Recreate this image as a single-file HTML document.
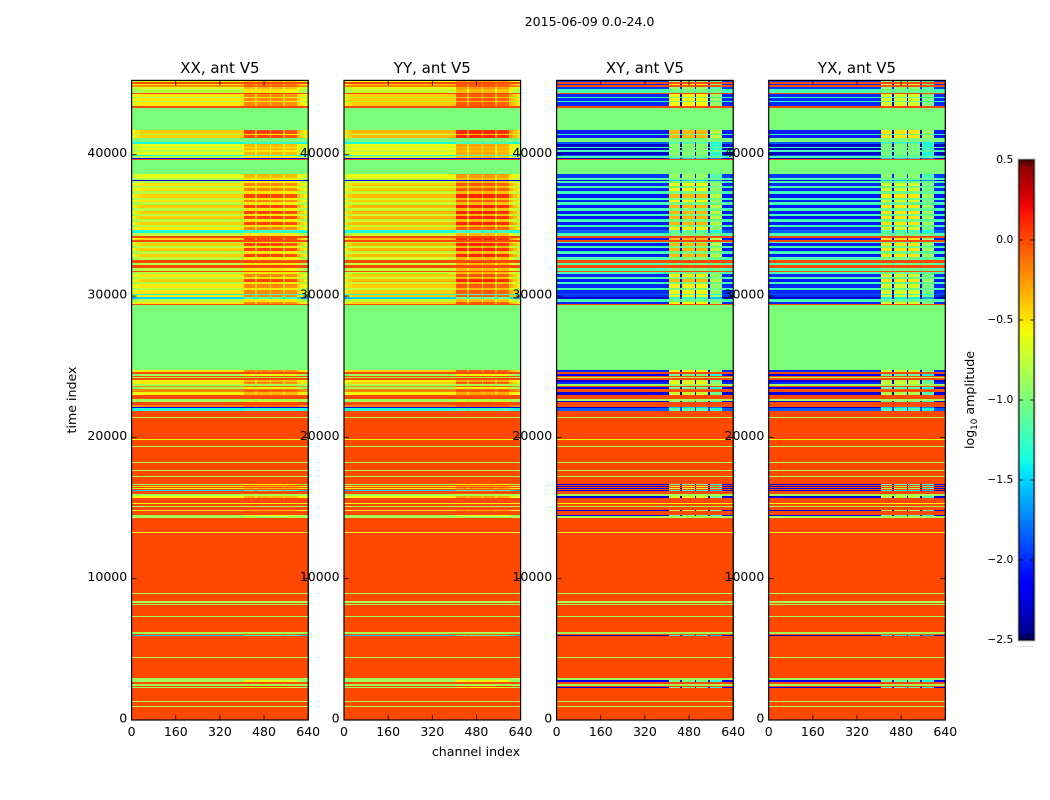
<!DOCTYPE html>
<html lang="en">
<head>
<meta charset="utf-8">
<title>2015-06-09 0.0-24.0</title>
<style>
html,body{margin:0;padding:0;background:#fff;}
svg{display:block;font-family:"DejaVu Sans","Liberation Sans",sans-serif;fill:#000;}
</style>
</head>
<body>
<svg id="figure" xmlns="http://www.w3.org/2000/svg" width="1050" height="800" viewBox="0 0 1050 800">
  <rect x="0" y="0" width="1050" height="800" fill="#fff"/>
  <text x="589.5" y="26" font-size="12.6" text-anchor="middle">2015-06-09 0.0-24.0</text>
  <g id="panels"></g>
  <text x="476" y="756" font-size="12.6" text-anchor="middle">channel index</text>
  <text transform="translate(76 400) rotate(-90)" font-size="12.6" text-anchor="middle">time index</text>
  <g id="colorbar"></g>
  <text transform="translate(974 400) rotate(-90)" font-size="12.6" text-anchor="middle">log<tspan font-size="8.8" dy="3">10</tspan><tspan dy="-3"> amplitude</tspan></text>
</svg>
<script>
// Axis ranges and tick labels
const channelMax = 640;
const timeMax = 45260;
const channelTicks = [0, 160, 320, 480, 640];
const timeTicks = [0, 10000, 20000, 30000, 40000];
const colorTicks = [-2.5, -2, -1.5, -1, -0.5, 0, 0.5];
const colorMin = -2.5;
const colorMax = 0.5;
const panelTitles = ["XX, ant V5", "YY, ant V5", "XY, ant V5", "YX, ant V5"];

// Time-index where each horizontal band of the waterfall begins
const bandStart = [
  0,940,1010,1280,1345,2265,2345,2405,2545,2685,
  2830,2975,4375,4455,5940,6080,6110,6195,7310,7380,
  8140,8210,8270,8395,8920,8985,13220,13290,14315,14425,
  14535,14775,14880,15075,15155,15305,15375,15695,15860,15990,
  16200,16300,16370,16440,16510,16580,16640,16710,17175,17280,17620,
  17710,18180,18280,19300,19400,19800,19895,21355,21445,21870,
  22055,22135,22265,22500,22590,22690,22970,23210,23400,23540,
  23640,23750,23890,24030,24170,24240,24320,24460,24600,24745,
  29340,29410,29590,29815,29910,30050,30125,30455,30596,30831,
  30973,31208,31350,31561,31678,31773,32008,32196,32361,32573,
  32785,32996,33161,33396,33561,33726,33843,33937,34126,34244,
  34479,34644,34855,34996,35232,35420,35632,35797,36008,36197,
  36432,36620,36808,36950,37255,37443,37632,37797,37985,38150,
  38220,38360,38620,39630,39700,39770,39945,40015,40225,40370,
  40510,40580,40770,40870,41150,41370,41450,41750,43340,43480,
  43710,43780,43990,44070,44210,44280,44325,44395,44680,44820,
  44960,45035,45140
];
// Which amplitude class each band belongs to (index into the level arrays below)
const bandKind = [
  0,2,0,2,0,10,0,2,0,10,
  2,0,2,0,13,0,2,0,2,0,
  2,0,2,0,2,0,12,0,2,10,
  0,9,0,2,0,12,0,9,2,0,
  13,0,9,0,9,0,10,0,2,0,2,
  0,2,0,2,0,12,0,2,0,5,
  6,11,0,10,2,0,9,11,10,11,
  2,3,9,0,2,0,10,0,3,1,
  0,3,4,13,3,5,3,4,3,4,
  7,4,3,4,0,4,0,4,0,4,
  7,4,7,4,7,4,0,7,0,4,
  5,3,4,7,4,7,4,7,4,7,
  4,3,4,7,4,3,4,3,4,6,
  4,8,1,0,6,4,5,15,4,15,
  4,15,5,1,7,4,7,1,0,3,
  4,3,4,3,4,3,0,4,8,11,
  3,0,8
];

// log10 amplitude per class: "Low" = channels below the sub-band block, "High" = inside it
const xxLow  = [0,-1,-.85,-.5,-.78,-1.35,-2.2,-.42,-.62,-.55,-.88,-.2,-.55,-1.5,0,-.62];
const xxHigh = [0,-1,-.85,-.2,-.5,-1.25,-2.2,.02,-.35,-.35,-.6,-.08,-.55,-1.2,0,-.35];
const yyLow  = [0,-1,-.85,-.42,-.72,-1.35,-2.2,-.35,-.58,-.55,-.88,-.18,-.55,-1.5,0,-.58];
const yyHigh = [0,-1,-.85,-.05,-.35,-1.2,-2.2,.12,-.25,-.3,-.55,-.05,-.55,-1.1,0,-.3];
const xyLow  = [0,-1,-.85,-2,-1.2,-1.85,-2.3,-2.05,-1.95,-2.25,-2.2,-.02,-.55,-2.3,-2.3,-2.3];
const xyHigh = [0,-1,-.85,-.55,-1,-1.15,-1.5,-.35,-.9,-.7,-1.05,-.02,-.55,-1.3,-.85,-.95];
const yxLow  = [0,-1,-.85,-2,-1.2,-1.85,-2.3,-2.05,-1.95,-2.25,-2.2,-.02,-.55,-2.3,-2.3,-2.3];
const yxHigh = [0,-1,-.85,-.68,-1.05,-1.2,-1.5,-.5,-.95,-.8,-1.1,-.02,-.55,-1.4,-.95,-1];

// Channel groups along x and how far each sits between the Low and High level
const channelEdges = [0,12,30,406,447,454,500,505,549,556,598,612,626,640];
const copolWeight  = [-.4,-.15,0,1,.25,1,.25,1,.25,.9,.2,-.05,-.25];
const crossWeight  = [0,0,0,1,-.1,1,-.1,1,-.1,.75,0,0,0];

// Layout of the figure
const frameLefts = [131.6, 344, 556.6, 768.7];
const frameWidth = 176.6;
const frameTop = 80.4;
const frameBottom = 720;
const barLeft = 1019, barRight = 1034, barTop = 160, barBottom = 640;
const SVGNS = "http://www.w3.org/2000/svg";

const lerp = (pts, f) => {
  if (f <= pts[0][0]) return pts[0][1];
  for (let i = 1; i < pts.length; i++) {
    if (f <= pts[i][0]) {
      const a = pts[i - 1], b = pts[i];
      return a[1] + (b[1] - a[1]) * (f - a[0]) / (b[0] - a[0]);
    }
  }
  return pts[pts.length - 1][1];
};
const jetR = [[0,0],[.35,0],[.66,1],[.89,1],[1,.5]];
const jetG = [[0,0],[.125,0],[.375,1],[.64,1],[.91,0],[1,0]];
const jetB = [[0,.5],[.11,1],[.34,1],[.65,0],[1,0]];
function colorOf(v) {
  const f = Math.min(1, Math.max(0, (v - colorMin) / (colorMax - colorMin)));
  const c = [jetR, jetG, jetB].map(p => Math.round(255 * lerp(p, f)));
  return "rgb(" + c.join(",") + ")";
}
function timeToY(t) { return frameBottom - (frameBottom - frameTop) * t / timeMax; }
function channelToX(ch, left) { return left + frameWidth * ch / channelMax; }
function colorToY(v) { return barBottom - (barBottom - barTop) * (v - colorMin) / (colorMax - colorMin); }

function makeRect(parent, x, y, w, h, fill) {
  const el = document.createElementNS(SVGNS, "rect");
  el.setAttribute("x", x);
  el.setAttribute("y", y);
  el.setAttribute("width", w);
  el.setAttribute("height", h);
  el.setAttribute("fill", fill);
  parent.appendChild(el);
  return el;
}
function makeLine(parent, x1, y1, x2, y2, width) {
  const el = document.createElementNS(SVGNS, "line");
  el.setAttribute("x1", x1);
  el.setAttribute("y1", y1);
  el.setAttribute("x2", x2);
  el.setAttribute("y2", y2);
  el.setAttribute("stroke", "#000");
  el.setAttribute("stroke-width", width);
  parent.appendChild(el);
  return el;
}
function makeText(parent, x, y, size, anchor, str) {
  const el = document.createElementNS(SVGNS, "text");
  el.setAttribute("x", x);
  el.setAttribute("y", y);
  el.setAttribute("font-size", size);
  el.setAttribute("text-anchor", anchor);
  el.textContent = str;
  parent.appendChild(el);
  return el;
}

const panelsRoot = document.getElementById("panels");
const panelLevels = [
  [xxLow, xxHigh, copolWeight],
  [yyLow, yyHigh, copolWeight],
  [xyLow, xyHigh, crossWeight],
  [yxLow, yxHigh, crossWeight]
];

panelTitles.forEach((title, p) => {
  const left = frameLefts[p];
  const low = panelLevels[p][0], high = panelLevels[p][1], weight = panelLevels[p][2];
  const group = document.createElementNS(SVGNS, "g");
  
  
  panelsRoot.appendChild(group);

  const image = document.createElementNS(SVGNS, "g");
  
  
  image.setAttribute("shape-rendering", "crispEdges");
  group.appendChild(image);

  bandStart.forEach((start, b) => {
    const end = b + 1 < bandStart.length ? bandStart[b + 1] : timeMax;
    const yTop = Math.round(timeToY(end));
    const yBot = Math.round(timeToY(start));
    const h = Math.max(1, yBot - yTop);
    const k = bandKind[b];
    const lo = low[k], hi = high[k];
    if (lo === hi) {
      const cell = makeRect(image, Math.round(left), yTop, Math.round(frameWidth), h, colorOf(lo));
      
      
      return;
    }
    for (let c = 0; c + 1 < channelEdges.length; c++) {
      const x0 = Math.round(channelToX(channelEdges[c], left));
      const x1 = Math.round(channelToX(channelEdges[c + 1], left));
      const cell = makeRect(image, x0, yTop, x1 - x0, h, colorOf(lo + (hi - lo) * weight[c]));
      
      
    }
  });

  const frame = makeRect(group, left, frameTop, frameWidth, frameBottom - frameTop, "none");
  frame.setAttribute("stroke", "#000");
  frame.setAttribute("stroke-width", "1.2");
  
  

  channelTicks.forEach(ch => {
    const x = channelToX(ch, left);
    const tickB = makeLine(group, x, frameBottom, x, frameBottom - 5, 0.8);
    
    
    const tickT = makeLine(group, x, frameTop, x, frameTop + 5, 0.8);
    
    
    const label = makeText(group, x, 736, 12.5, "middle", String(ch));
    
    
  });
  timeTicks.forEach(t => {
    const y = timeToY(t);
    const tickL = makeLine(group, left, y, left + 5, y, 0.8);
    
    
    const tickR = makeLine(group, left + frameWidth, y, left + frameWidth - 5, y, 0.8);
    
    
    const label = makeText(group, left - 4.4, y + 2.5, 12.5, "end", String(t));
    
    
  });
  const heading = makeText(group, left + frameWidth / 2, 73, 15, "middle", title);
  
  
});

// Colorbar
const barRoot = document.getElementById("colorbar");
const halo = makeRect(barRoot, barLeft - 1, barTop - 1, barRight - barLeft + 2, barBottom - barTop + 2, "none");
halo.setAttribute("stroke", "#bbb");
halo.setAttribute("stroke-width", "1");


const ramp = document.createElementNS(SVGNS, "g");


ramp.setAttribute("shape-rendering", "crispEdges");
barRoot.appendChild(ramp);
for (let y = barTop; y < barBottom; y += 2) {
  const frac = 1 - (y + 1 - barTop) / (barBottom - barTop);
  makeRect(ramp, barLeft, y, barRight - barLeft, 2, colorOf(colorMin + (colorMax - colorMin) * frac));
}
const barFrame = makeRect(barRoot, barLeft, barTop, barRight - barLeft, barBottom - barTop, "none");
barFrame.setAttribute("stroke", "#000");
barFrame.setAttribute("stroke-width", "1");


colorTicks.forEach(v => {
  const y = colorToY(v);
  const tickL = makeLine(barRoot, barLeft, y, barLeft + 4, y, 0.8);
  
  
  const tickR = makeLine(barRoot, barRight, y, barRight - 4, y, 0.8);
  
  
  const text = (v < 0 ? "\u2212" : "") + Math.abs(v).toFixed(1);
  const label = makeText(barRoot, barLeft - 5.6, y + 3, 10.8, "end", text);
  
  
});
for (let x = barLeft + 2.5; x < barRight; x += 2.5) {
  const topMark = makeLine(barRoot, x, barTop, x, barTop + 6, 0.6);
  
  
  const botMark = makeLine(barRoot, x, barBottom, x, barBottom - 6, 0.6);
  
  
}
for (let x = 1017.5; x < 1035; x += 3) {
  const dot = makeRect(barRoot, x, 646, 1, 1, "#aaa");
  
  
}
</script>
</body>
</html>
